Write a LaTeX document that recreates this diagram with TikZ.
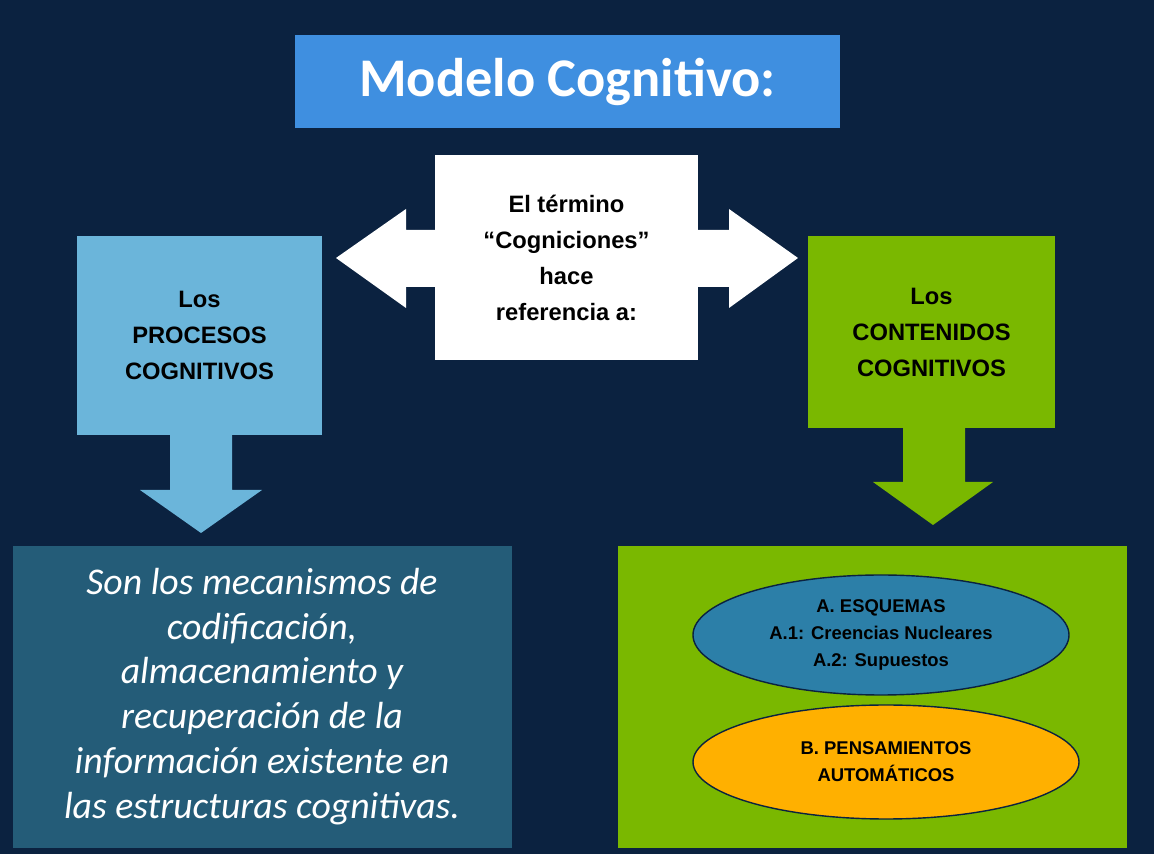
\documentclass[tikz,border=0pt]{standalone}
\usepackage{fontspec}
\setmainfont{Liberation Sans}
\newfontfamily\titlefont{Carlito}
\usetikzlibrary{positioning}
\definecolor{navybg}{HTML}{0B2240}
\definecolor{titleblue}{HTML}{3F8FE0}
\definecolor{procblue}{HTML}{6BB5DA}
\definecolor{infoblue}{HTML}{245C78}
\definecolor{contgreen}{HTML}{7AB800}
\definecolor{schemablue}{HTML}{2C7FA8}
\definecolor{autoorange}{HTML}{FFB000}
\tikzset{
  headbox/.style={draw=none, align=center, font=\bfseries\fontsize{13.5}{20.5}\selectfont, inner sep=0pt},
  oval/.style={ellipse, draw=navybg, thick, align=center, font=\bfseries\fontsize{10.5}{15.5}\selectfont, inner sep=0pt}
}
\usetikzlibrary{shapes.geometric}
\begin{document}
\begin{tikzpicture}[x=0.02cm, y=-0.02cm]
        \useasboundingbox (0,0) rectangle (1154,854);
        \fill [navybg] (0,0) rectangle (1154,854);

        % title
        \node (title) [fill=titleblue, minimum width=545*0.02cm, minimum height=93*0.02cm, text=white, font=\titlefont\bfseries\fontsize{31}{36}\selectfont] at (567.5,81.5) {Modelo Cognitivo:};

        % double arrow behind the middle box
        \fill [white] (336,258) -- (406,209) -- (406,230) -- (729,230) -- (729,209) -- (798,258)
              -- (729,308) -- (729,287) -- (406,287) -- (406,308) -- cycle;
        \node (term) [headbox, fill=white, minimum width=263*0.02cm, minimum height=205*0.02cm] at (566.5,257.5)
              {El término\\“Cogniciones”\\hace\\referencia a:};

        % left column
        \node (proc) [headbox, fill=procblue, minimum width=245*0.02cm, minimum height=199*0.02cm] at (199.5,335.5)
              {Los\\PROCESOS\\COGNITIVOS};
        \fill [procblue] (170,435) -- (232,435) -- (232,490) -- (262,490) -- (201,533) -- (140,490) -- (170,490) -- cycle;
        \node (info) [draw=navybg, fill=infoblue, minimum width=500*0.02cm, minimum height=303*0.02cm, text=white, align=center,
              font=\titlefont\itshape\fontsize{21.5}{25.5}\selectfont] at (262,696.5)
              {Son los mecanismos de\\codificación,\\almacenamiento y\\recuperación de la\\información existente en\\las estructuras cognitivas.};

        % right column
        \node (cont) [headbox, fill=contgreen, minimum width=247*0.02cm, minimum height=192*0.02cm] at (931.5,332)
              {Los\\CONTENIDOS\\COGNITIVOS};
        \fill [contgreen] (903,428) -- (965,428) -- (965,482) -- (993,482) -- (933,525) -- (873,482) -- (903,482) -- cycle;
        \node (types) [draw=navybg, fill=contgreen, minimum width=510*0.02cm, minimum height=303*0.02cm] at (872,696.5) {};
        \node (schema) [oval, fill=schemablue, minimum width=376*0.02cm, minimum height=120*0.02cm] at (881,635)
              {A. ESQUEMAS\\A.1: Creencias Nucleares\\A.2: Supuestos};
        \node (auto) [oval, fill=autoorange, minimum width=386*0.02cm, minimum height=114*0.02cm] at (886,762)
              {B. PENSAMIENTOS\\AUTOMÁTICOS};
\end{tikzpicture}
\end{document}
